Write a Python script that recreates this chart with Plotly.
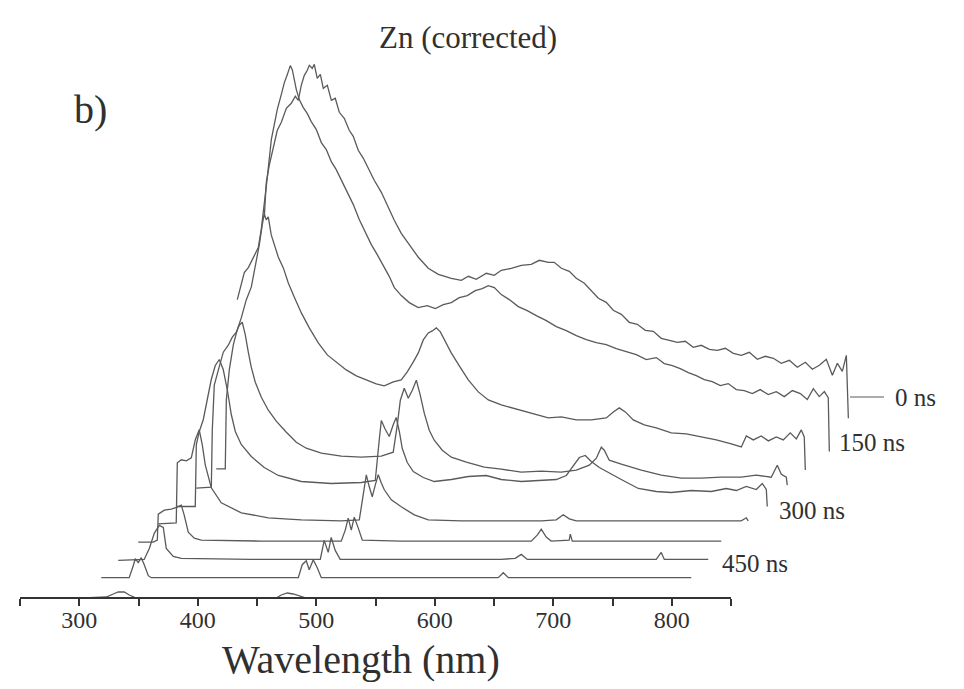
import plotly.graph_objects as go

# ---- spectra (own wavelength in nm, intensity in a.u.), back (index 9) to front (index 0) ----
wl_9 = [308.0, 309.7, 312.2, 315.6, 319.0, 322.4, 326.6, 330.8, 334.2, 336.7, 339.2, 341.8, 344.3, 346.0, 348.5, 350.2, 352.7, 355.3, 357.8, 361.2, 364.6, 367.9, 371.3, 375.5, 379.7, 383.1, 387.3, 391.6, 395.8, 400.8, 406.8, 412.7, 417.7, 423.6, 429.5, 438.0, 446.4, 454.9, 465.8, 474.3, 480.2, 486.9, 495.4, 502.1, 508.0, 516.5, 524.9, 533.3, 540.1, 547.7, 552.7, 558.7, 565.4, 571.3, 578.1, 584.0, 589.9, 596.6, 602.5, 609.3, 616.0, 622.8, 629.5, 636.3, 643.0, 649.8, 656.6, 663.3, 670.0, 676.8, 683.6, 690.3, 697.1, 703.8, 710.6, 717.3, 724.1, 730.8, 737.6, 744.3, 751.1, 757.8, 764.6, 770.5, 776.4, 782.3, 787.4, 791.6, 795.8, 799.2, 800.9]
int_9 = [216, 251, 268, 285, 303, 311, 325, 330, 337, 333, 348, 358, 363, 368, 365, 369, 355, 359, 345, 348, 333, 335, 321, 315, 303, 297, 283, 275, 265, 253, 241, 226, 213, 200, 190, 176, 165, 159, 155, 153, 157, 154, 160, 158, 163, 165, 168, 169, 173, 171, 171, 165, 162, 155, 150, 143, 135, 131, 123, 119, 111, 109, 103, 102, 95, 93, 91, 92, 86, 88, 84, 83, 85, 80, 78, 81, 74, 77, 75, 70, 73, 66, 71, 64, 68, 74, 58, 70, 62, 78, 15]

wl_8 = [301.7, 305.1, 307.6, 311.0, 313.5, 316.9, 319.4, 321.9, 324.5, 327.0, 330.4, 332.9, 335.4, 338.8, 341.4, 343.9, 346.4, 348.1, 349.8, 351.5, 354.0, 357.4, 360.8, 364.1, 368.4, 372.6, 376.8, 381.0, 385.2, 389.5, 394.5, 399.6, 404.6, 409.7, 414.8, 419.8, 424.9, 430.0, 434.2, 440.1, 446.8, 454.4, 462.0, 468.8, 475.5, 482.3, 489.0, 495.8, 502.5, 508.4, 513.5, 518.6, 524.5, 531.2, 538.8, 546.4, 554.0, 562.5, 570.9, 579.3, 587.8, 596.2, 604.6, 613.1, 621.5, 630.0, 638.4, 646.8, 655.3, 662.0, 668.8, 675.5, 682.3, 689.0, 695.8, 702.5, 709.3, 716.0, 722.8, 729.5, 736.3, 743.0, 749.8, 756.5, 763.3, 770.1, 776.8, 782.7, 787.8, 792.8, 797.1, 800.4, 801.3]
int_8 = [152, 167, 179, 184, 190, 197, 204, 222, 247, 274, 312, 327, 342, 357, 369, 377, 386, 382, 370, 362, 352, 344, 338, 330, 322, 309, 302, 290, 282, 272, 259, 247, 232, 220, 207, 197, 186, 175, 164, 156, 149, 144, 146, 143, 147, 149, 154, 156, 161, 163, 166, 164, 157, 152, 145, 141, 136, 131, 125, 121, 116, 112, 109, 107, 103, 100, 97, 92, 94, 88, 86, 83, 79, 76, 72, 70, 66, 68, 62, 61, 58, 62, 57, 60, 55, 61, 58, 52, 63, 55, 60, 54, 0]

wl_7 = [300.4, 308.0, 308.9, 311.4, 314.8, 318.1, 321.5, 325.7, 330.0, 333.3, 336.7, 339.2, 340.9, 342.6, 344.3, 346.8, 350.2, 352.7, 357.0, 361.2, 366.2, 372.2, 378.9, 386.5, 394.1, 401.7, 410.1, 418.6, 427.0, 435.4, 442.2, 449.8, 456.5, 461.6, 466.7, 470.9, 475.1, 479.3, 482.7, 486.1, 489.5, 493.7, 498.7, 505.5, 513.1, 521.5, 530.0, 540.9, 555.3, 567.9, 580.6, 591.6, 604.2, 616.9, 629.5, 635.5, 640.5, 645.6, 652.3, 661.6, 671.7, 684.4, 697.1, 709.7, 722.4, 735.0, 743.5, 747.7, 753.6, 760.3, 766.3, 773.0, 778.9, 784.8, 789.9, 794.1, 796.6, 797.5]
int_7 = [1, 1, 70, 100, 125, 140, 152, 170, 183, 202, 225, 245, 256, 250, 253, 235, 222, 213, 202, 187, 173, 157, 142, 127, 115, 108, 100, 94, 90, 86, 84, 88, 90, 98, 108, 117, 130, 137, 139, 142, 138, 128, 117, 104, 90, 78, 70, 65, 60, 56, 52, 53, 50, 50, 52, 58, 62, 58, 50, 45, 42, 37, 36, 33, 30, 26, 23, 34, 30, 34, 29, 33, 30, 37, 31, 40, 33, 0]

wl_6 = [300.0, 312.7, 313.5, 315.2, 318.6, 322.8, 327.0, 330.4, 333.8, 336.3, 338.8, 341.4, 343.9, 346.4, 349.8, 354.9, 360.8, 367.5, 376.0, 384.4, 392.8, 405.5, 422.4, 439.2, 456.1, 466.2, 469.6, 472.2, 475.5, 478.9, 482.3, 485.7, 489.0, 492.4, 496.6, 500.8, 507.6, 515.2, 527.9, 543.0, 557.4, 574.3, 591.1, 608.0, 620.7, 631.7, 637.6, 641.8, 644.3, 648.5, 658.7, 675.5, 692.4, 709.3, 726.2, 743.0, 759.9, 772.6, 785.2, 790.3, 793.7, 797.9, 798.7]
int_6 = [0, 1, 58, 103, 118, 136, 143, 151, 156, 163, 166, 153, 136, 121, 106, 91, 78, 67, 56, 46, 40, 35, 32, 31, 32, 36, 63, 88, 100, 90, 98, 108, 93, 75, 58, 48, 38, 31, 26, 21, 19, 16, 17, 16, 18, 23, 30, 41, 38, 28, 24, 18, 13, 10, 10, 11, 11, 13, 11, 23, 14, 11, 3]

wl_5 = [300.4, 315.6, 316.5, 319.0, 322.4, 325.7, 329.1, 332.5, 335.9, 339.2, 342.6, 346.0, 349.4, 354.4, 362.9, 373.8, 385.7, 405.1, 430.4, 455.7, 467.5, 470.9, 472.6, 476.0, 479.3, 482.7, 485.2, 487.8, 490.3, 494.5, 499.6, 508.0, 517.3, 531.7, 546.0, 561.2, 573.8, 590.7, 607.6, 620.3, 628.7, 634.6, 639.7, 644.7, 649.8, 656.6, 664.1, 675.1, 689.5, 704.6, 717.3, 734.2, 751.1, 763.7, 772.2, 780.6, 789.0, 794.1, 797.5, 798.3]
int_5 = [0, 0, 62, 75, 87, 107, 127, 141, 147, 137, 117, 92, 75, 62, 50, 39, 31, 25, 23, 24, 26, 67, 86, 77, 70, 82, 89, 75, 58, 44, 35, 29, 25, 27, 30, 31, 27, 25, 26, 27, 31, 41, 49, 51, 45, 39, 34, 27, 18, 15, 14, 16, 15, 18, 16, 20, 17, 23, 17, 0]

wl_4 = [300.8, 316.0, 316.9, 320.3, 324.5, 328.7, 332.1, 335.4, 338.0, 340.5, 345.6, 354.0, 370.9, 393.7, 421.5, 455.3, 470.5, 473.8, 476.4, 478.9, 481.4, 484.0, 486.5, 489.0, 491.6, 497.5, 505.9, 516.9, 528.7, 556.5, 590.3, 624.1, 636.7, 642.6, 647.7, 653.6, 691.6, 742.2, 775.9, 792.8, 797.1, 798.7]
int_4 = [1, 2, 62, 65, 64, 67, 85, 95, 80, 60, 37, 22, 12, 7, 5, 4, 5, 30, 50, 38, 28, 40, 50, 42, 35, 25, 18, 10, 5, 4, 4, 4, 5, 10, 6, 4, 4, 4, 4, 4, 7, 4]

wl_3 = [300.4, 313.1, 316.5, 317.3, 322.4, 328.3, 333.3, 336.7, 339.2, 342.6, 347.7, 353.6, 404.2, 471.7, 475.1, 477.6, 480.2, 482.7, 486.1, 489.5, 522.4, 632.1, 637.1, 640.5, 644.7, 648.9, 664.1, 665.0, 666.7, 733.3, 792.4]
int_3 = [1, 1, 3, 29, 33, 34, 36, 38, 28, 11, 5, 3, 2, 2, 13, 25, 13, 26, 15, 3, 2, 2, 8, 14, 6, 2, 3, 9, 2, 2, 2]

wl_2 = [300.0, 321.9, 326.2, 330.4, 334.6, 338.0, 340.5, 346.4, 353.2, 412.2, 470.5, 473.8, 477.2, 479.7, 483.1, 487.3, 623.2, 635.0, 640.1, 645.2, 754.0, 758.2, 760.8, 797.9]
int_2 = [1, 2, 13, 28, 36, 34, 13, 5, 3, 2, 2, 21, 9, 24, 11, 2, 2, 3, 7, 2, 2, 9, 2, 2]

wl_1 = [302.1, 325.7, 329.1, 330.8, 333.3, 335.9, 338.4, 341.8, 344.3, 468.4, 471.7, 475.1, 477.6, 481.0, 484.4, 487.8, 637.1, 641.4, 645.6, 800.0]
int_1 = [2, 2, 14, 21, 17, 22, 15, 4, 2, 2, 15, 19, 10, 20, 12, 2, 2, 7, 2, 2]

wl_0 = [303.4, 322.8, 328.7, 332.9, 338.0, 342.2, 348.1, 466.2, 470.5, 475.5, 480.6, 485.7, 491.6, 791.2]
int_0 = [0, 1, 4, 6, 6, 3, 0, 0, 3, 5, 4, 2, 0, 0]

spectra = [(wl_0, int_0), (wl_1, int_1), (wl_2, int_2), (wl_3, int_3), (wl_4, int_4),
           (wl_5, int_5), (wl_6, int_6), (wl_7, int_7), (wl_8, int_8), (wl_9, int_9)]

# waterfall offsets per spectrum
x_shift_nm = 16.46
y_shift = 18.3

tick_vals = [250, 300, 350, 400, 450, 500, 550, 600, 650, 700, 750, 800, 850]
tick_text = ["", "300", "", "400", "", "500", "", "600", "", "700", "", "800", ""]

delay_labels = ["0 ns", "150 ns", "300 ns", "450 ns"]
label_pos = [(986.7, 201), (939.5, 156), (888.8, 88), (840.7, 35)]

FONT = "Liberation Serif"
LINE = "#5a5a5a"
TXT = "#303030"

# the page body has an 8 px default margin: size and margins compensate for it
PAGE_OFF = 8
W, H = 964 - PAGE_OFF, 689 - PAGE_OFF
ML, MR, MT, MB = 20 - PAGE_OFF, 20, 50 - PAGE_OFF, 91
PW, PH = W - ML - MR, H - MT - MB   # 924 x 548


def px_to_paper(px, py):
    return ((px - PAGE_OFF - ML) / PW, 1 - (py - PAGE_OFF - MT) / PH)


fig = go.Figure()
for k in range(len(spectra) - 1, -1, -1):
    wl, inten = spectra[k]
    n = min(len(wl), len(inten))
    fig.add_trace(go.Scatter(
        x=[w + k * x_shift_nm for w in wl[:n]],
        y=[v + k * y_shift for v in inten[:n]],
        mode="lines", line=dict(color=LINE, width=1.3),
        showlegend=False, hoverinfo="skip"))

annotations = []
for txt, (ax, ay) in zip(delay_labels, label_pos):
    annotations.append(dict(x=ax, y=ay, xref="x", yref="y", text=txt, showarrow=False,
                            xanchor="left", yanchor="middle",
                            font=dict(family=FONT, size=25, color=TXT)))
tx, ty = px_to_paper(468, 37)
bx, by = px_to_paper(90, 110)
wx, wy = px_to_paper(361, 659)
annotations += [
    dict(x=tx, y=ty, xref="paper", yref="paper", text="Zn (corrected)",
         showarrow=False, xanchor="center", yanchor="middle",
         font=dict(family=FONT, size=31, color=TXT)),
    dict(x=bx, y=by, xref="paper", yref="paper", text="b)",
         showarrow=False, xanchor="center", yanchor="middle",
         font=dict(family=FONT, size=40, color=TXT)),
    dict(x=wx, y=wy, xref="paper", yref="paper", text="Wavelength (nm)",
         showarrow=False, xanchor="center", yanchor="middle",
         font=dict(family=FONT, size=40, color=TXT)),
]

shapes = [
    dict(type="line", xref="x", yref="paper", x0=250, x1=850, y0=0, y1=0,
         line=dict(color="#333", width=2)),
    dict(type="line", xref="x", yref="y", x0=950.4, x1=979.1, y0=201, y1=201,
         line=dict(color=LINE, width=1.2)),
]

fig.update_layout(
    width=W, height=H,
    margin=dict(l=ML, r=MR, t=MT, b=MB, autoexpand=False),
    paper_bgcolor="white", plot_bgcolor="white",
    xaxis=dict(range=[250, 250 + PW / 1.185], showgrid=False, zeroline=False, showline=False,
               ticks="outside", ticklen=7, tickwidth=1.5, tickcolor="#333",
               tickvals=tick_vals, ticktext=tick_text, automargin=False,
               ticklabelstandoff=-7,
               tickfont=dict(family=FONT, size=24, color=TXT)),
    yaxis=dict(range=[0, PH], visible=False, showgrid=False, zeroline=False, automargin=False),
    annotations=annotations, shapes=shapes,
)

fig.write_html("out.html")
